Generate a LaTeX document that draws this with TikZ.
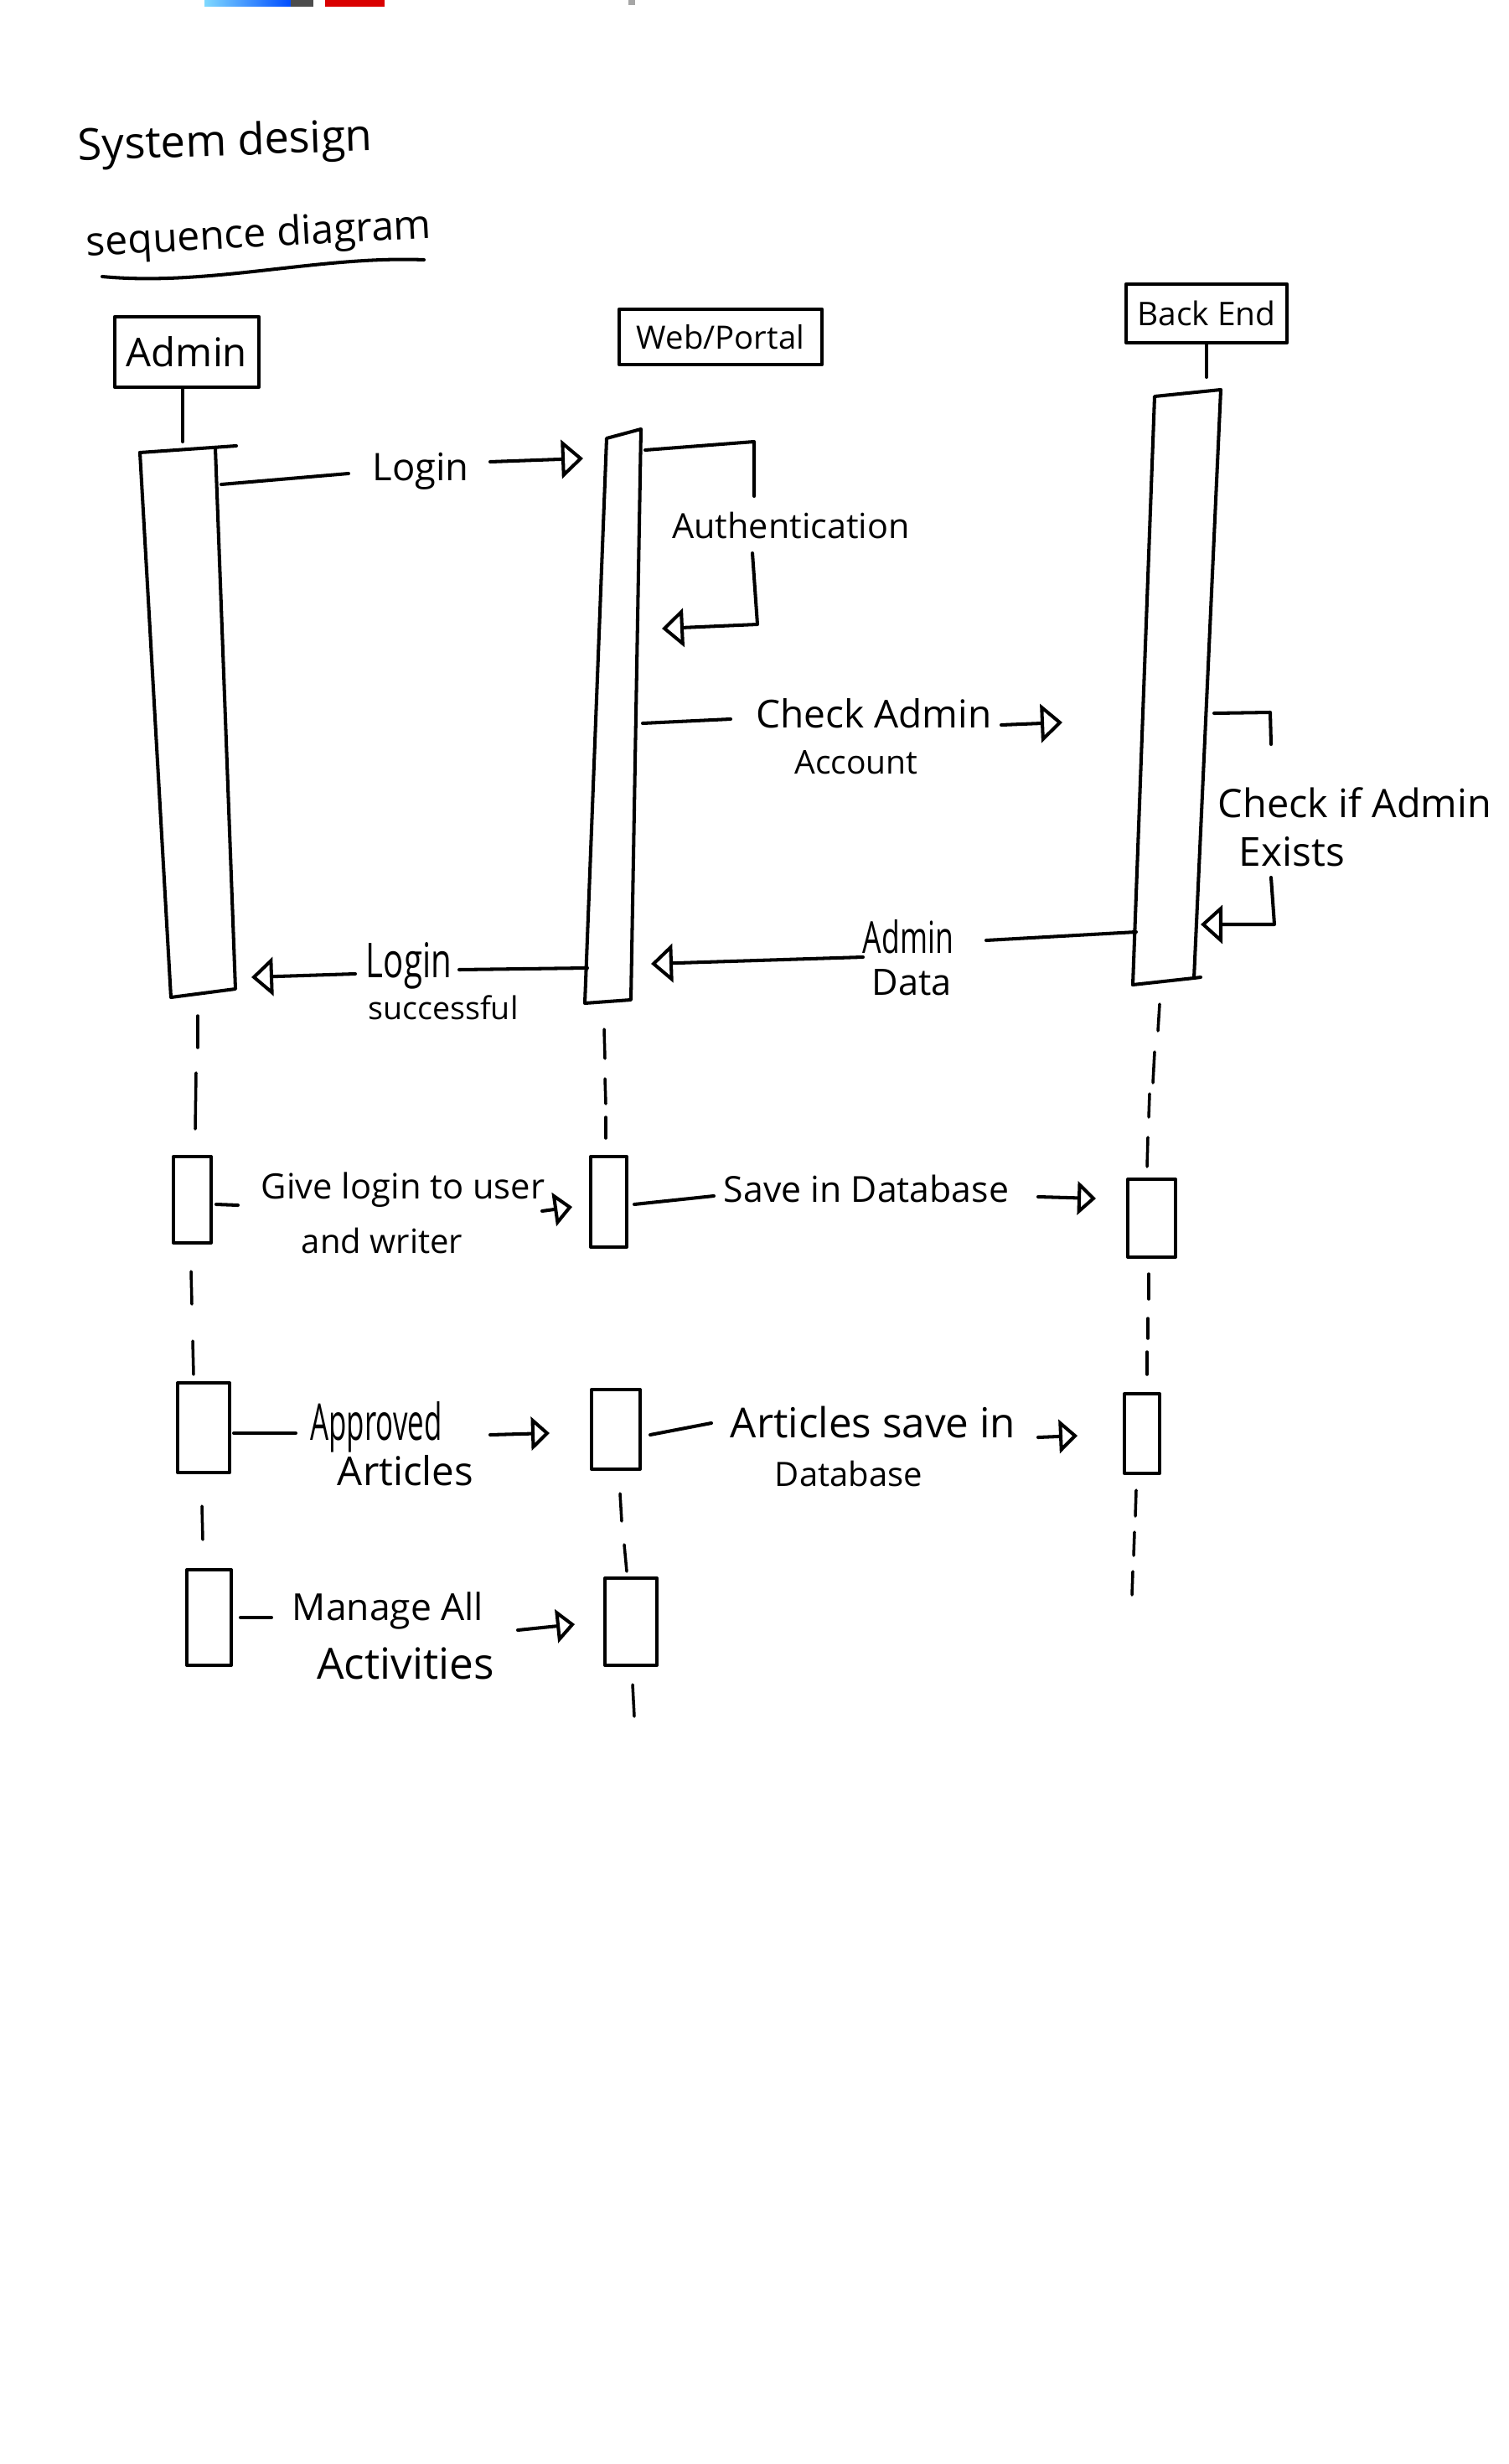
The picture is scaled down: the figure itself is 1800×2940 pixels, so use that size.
\documentclass[tikz,border=0pt]{standalone}
\usepackage{fontspec}
\setmainfont{Open Sans}
\usepackage{graphicx}
\usetikzlibrary{arrows.meta}
\newcommand\fitw[2]{\resizebox{#1cm}{!}{#2}}
\newcommand\fitwh[3]{\resizebox{#1cm}{#2cm}{#3}}
\begin{document}
\begin{tikzpicture}[x=0.01cm,y=-0.01cm, line width=1.15pt, line cap=round, line join=round,
  lbl/.style={inner sep=0pt, anchor=center},
  actor/.style={draw, inner sep=0pt},
  msg/.style={-{Triangle[open,length=0.26cm,width=0.46cm]}},
  smsg/.style={-{Triangle[open,length=0.22cm,width=0.4cm]}},
  lifeseg/.style={line width=1pt}
]
\fill[white] (0,0) rectangle (1800,2940);
\useasboundingbox (0,0) rectangle (1800,2940);

% top colour strip
\shade[left color=cyan!70!blue!50, right color=blue!70!cyan] (244,0) rectangle (347,8);
\fill[black!70] (347,0) rectangle (374,8);
\fill[red!85!black] (388,0) rectangle (459,8);
\fill[black!35] (750,0) rectangle (758,6);

% titles
\node[lbl, rotate=2] (t1) at (269,172) {\fitw{3.51}{System design}};
\node[lbl, rotate=3] (t2) at (309,282) {\fitw{4.12}{sequence diagram}};
\coordinate (u1) at (122,330);
\coordinate (u2) at (506,310);
\draw (u1) .. controls (250,342) and (380,305) .. (u2);

% participants
\node[actor, minimum width=1.72cm, minimum height=0.84cm] (admin) at (223,420) {\fitw{1.44}{Admin}};
\node[actor, minimum width=2.42cm, minimum height=0.66cm] (web) at (860,402) {\fitw{2.00}{Web/Portal}};
\node[actor, minimum width=1.92cm, minimum height=0.70cm] (be) at (1440,374) {\fitw{1.65}{Back End}};

\coordinate (al) at (218,527);
\draw (admin.south -| al) -- (al);
\coordinate (bl) at (1440,450);
\draw (be.south -| bl) -- (bl);

% main activation bars
\coordinate (abtl) at (167,540); \coordinate (abtr) at (257,535);
\coordinate (abbl) at (204,1190); \coordinate (abbr) at (281,1180);
\draw (abtl) -- (282,532);
\draw (abtl) -- (abbl) -- (abbr) -- (abtr);

\coordinate (wbtl) at (724,523); \coordinate (wbtr) at (765,512);
\coordinate (wbbl) at (698,1197); \coordinate (wbbr) at (753,1193);
\draw (wbbl) -- (wbtl) -- (wbtr) -- (wbbr) -- cycle;

\coordinate (bbtl) at (1378,473); \coordinate (bbtr) at (1457,465);
\coordinate (bbbl) at (1352,1175); \coordinate (bbbr) at (1425,1167);
\draw (bbbl) -- (bbtl) -- (bbtr) -- (bbbr) -- (1433,1166);
\draw (bbbl) -- (bbbr);

% Login
\coordinate (m1a) at (264,578); \coordinate (m1b) at (416,565);
\coordinate (m1c) at (585,551); \coordinate (m1d) at (696,547);
\draw (m1a) -- (m1b);
\node[lbl] (l1) at (502,562) {\fitw{1.15}{Login}};
\draw[msg] (m1c) -- (m1d);

% Authentication
\coordinate (m2a) at (770,537); \coordinate (m2b) at (900,527); \coordinate (m2c) at (900,592);
\coordinate (m2d) at (898,660); \coordinate (m2e) at (904,745); \coordinate (m2f) at (790,750);
\draw (m2a) -- (m2b) -- (m2c);
\node[lbl] (l2) at (944,627) {\fitw{2.83}{Authentication}};
\draw[msg] (m2d) -- (m2e) -- (m2f);

% Check Admin Account
\coordinate (m3a) at (767,863); \coordinate (m3b) at (872,858);
\coordinate (m3c) at (1195,865); \coordinate (m3d) at (1268,862);
\draw (m3a) -- (m3b);
\node[lbl] (l3a) at (1043,851) {\fitw{2.81}{Check Admin}};
\node[lbl] (l3b) at (1022,910) {\fitw{1.47}{Account}};
\draw[msg] (m3c) -- (m3d);

% Check if Admin Exists
\coordinate (m4a) at (1449,851); \coordinate (m4b) at (1516,850); \coordinate (m4c) at (1517,888);
\coordinate (m4d) at (1517,1047); \coordinate (m4e) at (1521,1103); \coordinate (m4f) at (1433,1103);
\draw (m4a) -- (m4b) -- (m4c);
\node[lbl] (l4a) at (1617,958) {\fitw{3.26}{Check if Admin}};
\node[lbl] (l4b) at (1542,1016) {\fitw{1.26}{Exists}};
\draw[msg] (m4d) -- (m4e) -- (m4f);

% Admin Data
\coordinate (m5a) at (1356,1112); \coordinate (m5b) at (1177,1122);
\coordinate (m5c) at (1030,1142); \coordinate (m5d) at (777,1150);
\draw (m5a) -- (m5b);
\node[lbl] (l5a) at (1084,1118) {\fitwh{1.08}{0.40}{Admin}};
\node[lbl] (l5b) at (1088,1172) {\fitw{0.95}{Data}};
\draw[msg] (m5c) -- (m5d);

% Login successful
\coordinate (m6a) at (701,1155); \coordinate (m6b) at (548,1157);
\coordinate (m6c) at (424,1162); \coordinate (m6d) at (300,1166);
\draw (m6a) -- (m6b);
\node[lbl] (l6a) at (488,1152) {\fitwh{1.02}{0.42}{Login}};
\node[lbl] (l6b) at (529,1202) {\fitw{1.79}{successful}};
\draw[msg] (m6c) -- (m6d);

% dashed lifelines: Admin
\draw[lifeseg] (236,1212) -- (236,1250);
\draw[lifeseg] (234,1280) -- (233,1347);
\draw[lifeseg] (228,1517) -- (229,1556);
\draw[lifeseg] (230,1600) -- (231,1640);
\draw[lifeseg] (241,1797) -- (242,1837);
% Web
\draw[lifeseg] (721,1228) -- (722,1263);
\draw[lifeseg] (722,1287) -- (723,1317);
\draw[lifeseg] (723,1333) -- (723,1358);
\draw[lifeseg] (740,1782) -- (742,1815);
\draw[lifeseg] (745,1843) -- (748,1875);
\draw[lifeseg] (755,2010) -- (757,2048);
% Back End
\draw[lifeseg] (1384,1198) -- (1382,1230);
\draw[lifeseg] (1378,1255) -- (1376,1292);
\draw[lifeseg] (1372,1305) -- (1371,1333);
\draw[lifeseg] (1370,1357) -- (1369,1392);
\draw[lifeseg] (1371,1520) -- (1371,1550);
\draw[lifeseg] (1370,1573) -- (1370,1597);
\draw[lifeseg] (1369,1613) -- (1369,1640);
\draw[lifeseg] (1356,1778) -- (1355,1809);
\draw[lifeseg] (1354,1828) -- (1353,1856);
\draw[lifeseg] (1352,1875) -- (1351,1903);

% small activation boxes
\draw (207,1380) rectangle (252,1483);
\draw (212,1650) rectangle (274,1757);
\draw (223,1873) rectangle (276,1987);
\draw (705,1380) rectangle (748,1488);
\draw (706,1658) rectangle (764,1753);
\draw (722,1883) rectangle (784,1987);
\draw (1346,1407) rectangle (1403,1500);
\draw (1342,1663) rectangle (1384,1758);

% Give login to user and writer
\coordinate (m7a) at (258,1437); \coordinate (m7b) at (284,1438);
\coordinate (m7c) at (647,1445); \coordinate (m7d) at (683,1440);
\draw (m7a) -- (m7b);
\node[lbl] (l7a) at (481,1420) {\fitw{3.38}{Give login to user}};
\node[lbl] (l7b) at (456,1480) {\fitw{1.92}{and writer}};
\draw[smsg] (m7c) -- (m7d);

% Save in Database
\coordinate (m8a) at (757,1437); \coordinate (m8b) at (852,1427);
\coordinate (m8c) at (1239,1428); \coordinate (m8d) at (1308,1430);
\draw (m8a) -- (m8b);
\node[lbl] (l8) at (1034,1418) {\fitw{3.40}{Save in Database}};
\draw[smsg] (m8c) -- (m8d);

% Approved Articles
\coordinate (m9a) at (279,1710); \coordinate (m9b) at (353,1710);
\coordinate (m9c) at (585,1712); \coordinate (m9d) at (656,1710);
\draw (m9a) -- (m9b);
\node[lbl] (l9a) at (449,1703) {\fitwh{1.57}{0.46}{Approved}};
\node[lbl] (l9b) at (484,1755) {\fitw{1.62}{Articles}};
\draw[smsg] (m9c) -- (m9d);

% Articles save in Database
\coordinate (m10a) at (776,1712); \coordinate (m10b) at (849,1698);
\coordinate (m10c) at (1239,1715); \coordinate (m10d) at (1286,1713);
\draw (m10a) -- (m10b);
\node[lbl] (l10a) at (1042,1697) {\fitw{3.40}{Articles save in}};
\node[lbl] (l10b) at (1013,1758) {\fitw{1.76}{Database}};
\draw[smsg] (m10c) -- (m10d);

% Manage All Activities
\coordinate (m11a) at (287,1930); \coordinate (m11b) at (324,1930);
\coordinate (m11c) at (618,1945); \coordinate (m11d) at (686,1938);
\draw (m11a) -- (m11b);
\node[lbl] (l11a) at (463,1922) {\fitw{2.28}{Manage All}};
\node[lbl] (l11b) at (484,1985) {\fitw{2.11}{Activities}};
\draw[smsg] (m11c) -- (m11d);
\end{tikzpicture}
\end{document}
